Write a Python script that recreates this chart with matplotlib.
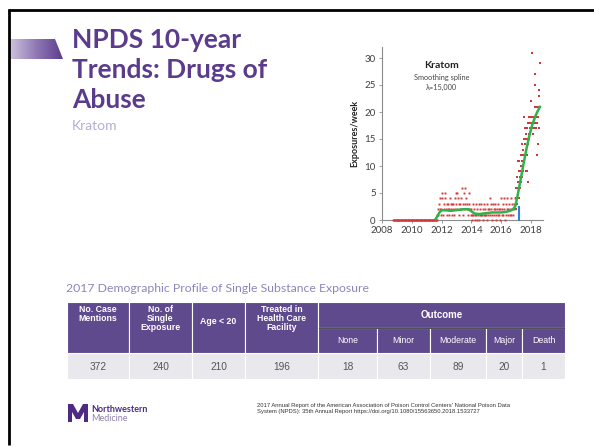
import matplotlib
matplotlib.use("Agg")
import matplotlib.pyplot as plt
import numpy as np
from matplotlib.patches import Rectangle, Polygon
from matplotlib.colors import LinearSegmentedColormap

# weekly kratom exposures, one reading every two weeks from 2008.75 to 2016.95
count_start = 2008.75
count_step = 1 / 26
counts = [
    0, 0, 0, 0, 0, 0, 0, 0, 0, 0, 0, 0, 0, 0, 0, 0, 0, 0, 0, 0, 0, 0, 0, 0, 0,
    0, 0, 0, 0, 0, 0, 0, 0, 0, 0, 0, 0, 0, 0, 0, 0, 0, 0, 0, 0, 0, 0, 0, 0, 0,
    0, 0, 0, 0, 0, 0, 0, 0, 0, 0, 0, 0, 0, 0, 0, 0, 0, 0, 0, 0, 0, 0, 0, 0, 0,
    0, 1, 0, 2, 1, 3, 2, 4, 1,
    2, 4, 5, 1, 3, 2, 5, 4, 2, 3, 1, 2, 3, 1, 2, 4, 3, 2, 1, 3, 2, 3, 1, 4, 2, 5,
    3, 5, 2, 4, 1, 3, 2, 3, 4, 2, 6, 3, 1, 5, 2, 3, 6, 4, 2, 3, 1, 2, 5, 3, 2, 1,
    2, 1, 0, 3, 1, 2, 0, 1, 3, 1, 0, 2, 1, 3, 0, 1, 2, 1, 3, 1, 0, 2, 1, 3, 1, 2,
    1, 3, 0, 2, 1, 2, 4, 1, 3, 2, 0, 1, 3, 2, 1, 2, 3, 1, 0, 2, 1, 3, 2, 1, 0, 2,
    4, 1, 2, 3, 1, 4, 2, 0, 1, 3, 2, 4, 1, 2, 3, 1, 2, 4, 1, 3, 2, 1, 3, 2, 4,
]

# the 2017-2018 surge, read point by point
surge_year = [2016.98, 2017.00, 2017.02, 2017.04, 2017.06, 2017.08, 2017.10, 2017.12, 2017.14, 2017.16,
              2017.18, 2017.20, 2017.22, 2017.24, 2017.26, 2017.28, 2017.30, 2017.32, 2017.34, 2017.36,
              2017.38, 2017.40, 2017.42, 2017.44, 2017.46, 2017.48, 2017.50, 2017.52, 2017.54, 2017.56,
              2017.58, 2017.60, 2017.62, 2017.64, 2017.66, 2017.68, 2017.70, 2017.72, 2017.74, 2017.76,
              2017.78, 2017.80, 2017.82, 2017.84, 2017.86, 2017.88, 2017.90, 2017.92, 2017.94, 2017.97,
              2018.00, 2018.02, 2018.05, 2018.08, 2018.10, 2018.12, 2018.14, 2018.16, 2018.18, 2018.20,
              2018.22, 2018.24, 2018.26, 2018.28, 2018.30, 2018.32, 2018.34, 2018.36, 2018.38, 2018.40,
              2018.42, 2018.44, 2018.46, 2018.48, 2018.50, 2018.52, 2018.55, 2018.58, 2018.60]
surge_val = [4, 6, 2, 6, 3, 8, 11, 5, 7, 4,
             6, 9, 11, 6, 8, 9, 10, 7, 12, 8,
             11, 10, 14, 12, 9, 13, 15, 11, 19, 14,
             12, 15, 17, 13, 16, 9, 12, 17, 15, 9,
             7, 14, 18, 16, 15, 19, 17, 16, 18, 22,
             17, 19, 31, 18, 17, 19, 16, 17, 19, 18,
             17, 21, 25, 27, 21, 19, 17, 18, 21, 12,
             18, 19, 14, 21, 17, 24, 23, 29, 21]

# smoothing spline (lambda = 15,000)
spline_year = [2011.55, 2011.7, 2011.85, 2012.0, 2012.3, 2012.6, 2012.9, 2013.2, 2013.5, 2013.8,
               2014.0, 2014.2, 2014.5, 2014.8, 2015.1, 2015.4, 2015.7, 2016.0, 2016.3, 2016.6,
               2016.8, 2016.95, 2017.1, 2017.3, 2017.5, 2017.7, 2017.9, 2018.1, 2018.3, 2018.45, 2018.6]
spline_val = [0, 0.6, 1.4, 1.8, 1.8, 1.7, 1.8, 1.9, 2.0, 2.0,
              1.6, 1.2, 1.1, 1.2, 1.3, 1.4, 1.4, 1.4, 1.5, 1.7,
              2.0, 2.6, 4.6, 7.5, 10.5, 13.3, 15.8, 17.8, 19.3, 20.2, 21.0]

change_year = 2017.2
change_top = 2.5

# table
col_heads = ["No. Case\nMentions", "No. of\nSingle\nExposure", "Age < 20", "Treated in\nHealth Care\nFacility"]
outcome_heads = ["None", "Minor", "Moderate", "Major", "Death"]
row_values = [372, 240, 210, 196, 18, 63, 89, 20, 1]

purple = "#5b3b8c"
head_purple = "#604a8e"

fig = plt.figure(figsize=(5.94, 4.47), dpi=100)
bg = fig.add_axes([0, 0, 1, 1])
bg.set_xlim(0, 594)
bg.set_ylim(447, 0)
bg.axis("off")

# slide frame
bg.plot([7.5, 594], [10.3, 10.3], color="black", lw=2.0, solid_capstyle="butt")
bg.plot([8.7, 8.7], [9.3, 445], color="black", lw=2.0, solid_capstyle="butt")

# gradient banner
cm = LinearSegmentedColormap.from_list("band", ["#cdc2dd", "#8f78b5", "#5b3d8c"])
grad = np.linspace(0, 1, 200).reshape(1, -1)
im = bg.imshow(grad, extent=(10, 63, 59, 39), cmap=cm, aspect="auto", zorder=1)
band = Polygon([(10, 39), (55, 39), (63, 59), (10, 59)], closed=True, transform=bg.transData)
im.set_clip_path(band)
bg.set_xlim(0, 594)
bg.set_ylim(447, 0)

bg.text(72, 28, "NPDS 10-year\nTrends: Drugs of\nAbuse", fontsize=19, fontweight="bold",
        family="Lato", color=purple, va="top", ha="left", linespacing=1.3)
bg.text(72, 126, "Kratom", fontsize=10, family="Lato", color="#b7acd6", va="center")

# table title and table
bg.text(66, 288, "2017 Demographic Profile of Single Substance Exposure", fontsize=8.8,
        family="Lato", color="#9085bb", va="center")
edges = [67, 129, 192, 245, 318, 377, 430, 486, 522, 565]
top, mid, hbot, rbot = 302, 327.5, 353, 379
for i in range(9):
    x0, x1 = edges[i], edges[i + 1]
    bg.add_patch(Rectangle((x0, hbot), x1 - x0, rbot - hbot, facecolor="#e9e8ec",
                           edgecolor="white", lw=0.8))
    bg.text((x0 + x1) / 2, (hbot + rbot) / 2 + 0.5, str(row_values[i]), fontsize=7.3,
            family="Liberation Sans", color="#555555", ha="center", va="center")
for i, lab in enumerate(col_heads):
    x0, x1 = edges[i], edges[i + 1]
    bg.add_patch(Rectangle((x0, top), x1 - x0, hbot - top, facecolor=head_purple,
                           edgecolor="white", lw=0.8))
    if "\n" in lab:
        bg.text((x0 + x1) / 2, top + 3.5, lab, fontsize=6.3, fontweight="bold", color="white",
                family="Liberation Sans", ha="center", va="top", linespacing=0.95)
    else:
        bg.text((x0 + x1) / 2, 322, lab, fontsize=6.3, fontweight="bold", color="white",
                family="Liberation Sans", ha="center", va="center")
bg.add_patch(Rectangle((edges[4], top), edges[9] - edges[4], mid - top, facecolor=head_purple,
                       edgecolor="white", lw=0.8))
bg.text((edges[4] + edges[9]) / 2, (top + mid) / 2, "Outcome", fontsize=7, fontweight="bold",
        color="white", family="Liberation Sans", ha="center", va="center")
for j, lab in enumerate(outcome_heads):
    x0, x1 = edges[4 + j], edges[5 + j]
    bg.add_patch(Rectangle((x0, mid), x1 - x0, hbot - mid, facecolor=head_purple,
                           edgecolor="white", lw=0.8))
    bg.text((x0 + x1) / 2, (mid + hbot) / 2, lab, fontsize=6.3, color="white",
            family="Liberation Sans", ha="center", va="center")
bg.plot([edges[4] + 1, edges[9] - 1], [mid, mid], color="#4f4f5f", lw=0.8)

# footer logo and citation
logo = Polygon([(68, 422), (68, 404), (73, 404), (78, 413), (83, 404), (88, 404), (88, 422),
                (84, 422), (84, 412), (80, 419), (76, 419), (72, 412), (72, 422)],
               closed=True, facecolor="#4e2a84", edgecolor="none")
bg.add_patch(logo)
bg.text(91, 409, "Northwestern", fontsize=6.5, fontweight="bold", family="Lato",
        color="#4e2a84", va="center")
bg.text(91, 418.5, "Medicine", fontsize=6.5, family="Lato", color="#8f82ad", va="center")
bg.text(257, 403.5, "2017 Annual Report of the American Association of Poison Control Centers' National Poison Data\n"
        "System (NPDS): 35th Annual Report https://doi.org/10.1080/15563650.2018.1533727",
        fontsize=4.2, family="Liberation Sans", color="#333333", va="top", linespacing=1.25)

# chart
ax = fig.add_axes([382 / 594, 1 - 220 / 447, 161 / 594, 172.8 / 447])
count_year = count_start + count_step * np.arange(len(counts))
ax.plot(count_year, counts, "s", color="#d23a3a", ms=1.4, mew=0, clip_on=False, zorder=3)
ax.plot(surge_year, surge_val, "s", color="#d23a3a", ms=1.6, mew=0, clip_on=False, zorder=3)
ax.plot(spline_year, spline_val, color="#2cb34a", lw=1.8, zorder=4, solid_capstyle="round")
ax.plot([change_year, change_year], [0, change_top], color="#2f7fd8", lw=1.5, zorder=5, clip_on=False)

ax.set_xlim(2008, 2018.8)
ax.set_ylim(0, 32)
ax.set_xticks(range(2008, 2019, 2))
ax.set_yticks(range(0, 31, 5))
for s in ["top", "right"]:
    ax.spines[s].set_visible(False)
for s in ["left", "bottom"]:
    ax.spines[s].set_color("#8c8c8c")
    ax.spines[s].set_linewidth(0.8)
    ax.spines[s].set_zorder(1)
ax.tick_params(colors="#8c8c8c", length=2.5, width=0.6, labelsize=7, labelcolor="#404040", pad=2)
for lab in ax.get_xticklabels() + ax.get_yticklabels():
    lab.set_family("Lato")
ax.set_ylabel("Exposures/week", fontsize=6.5, family="Lato", fontweight="bold", color="#222222", labelpad=4)
ax.patch.set_alpha(0)

ax.text(2012.0, 28.7, "Kratom", fontsize=7.5, fontweight="bold", family="Lato", ha="center", va="center", color="#222222")
ax.text(2012.0, 26.3, "Smoothing spline", fontsize=5.3, family="Lato", ha="center", va="center", color="#444444")
ax.text(2012.0, 24.6, "\u03bb=15,000", fontsize=5.3, family="Lato", ha="center", va="center", color="#444444")

fig.savefig("out.png", dpi=100)
